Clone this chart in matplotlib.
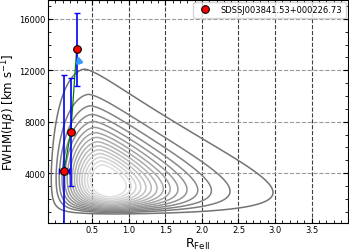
import numpy as np
import matplotlib
matplotlib.use("Agg")
import matplotlib.pyplot as plt
from matplotlib.ticker import MultipleLocator

# source values
src_label = "SDSSJ003841.53+000226.73"
rfe = [0.117, 0.21, 0.29]
fwhm = [4180, 7235, 13630]
fwhm_err = [7450, 4200, 2850]
rfe_err = [0.065, 0.0, 0.0]

# shape of the quasar main-sequence density (peak position / widths)
peak_rfe, peak_fwhm = 0.70, 3200
rfe_shift, fwhm_floor = 0.15, 700
a_rfe, a_fwhm, p_rfe, skew = 2.4, 1.47, 0.8, 0.05
levels = [0.05, 0.12, 0.175, 0.23, 0.285, 0.34, 0.395, 0.45, 0.505, 0.56,
          0.615, 0.67, 0.725, 0.78, 0.835]

fig = plt.figure(figsize=(3.49, 2.51), dpi=100)
ax = fig.add_axes([0.138, 0.109, 0.86, 0.889])

# contour background
xg = np.linspace(-0.1, 4.0, 500)
yg = np.linspace(150, 17500, 500)
X, Y = np.meshgrid(xg, yg)
u = X + rfe_shift
v = (Y - fwhm_floor) / 1000.0
vp = (peak_fwhm - fwhm_floor) / 1000.0
up = (peak_rfe + rfe_shift) * np.exp(-skew * (v - vp))
with np.errstate(divide="ignore", invalid="ignore"):
    tu = np.where(u > 0, u / up, np.nan)
    tv = np.where(v > 0, v / vp, np.nan)
    D = a_rfe * (tu - 1 - np.log(tu)) ** p_rfe + a_fwhm * (tv - 1 - np.log(tv))
Z = np.nan_to_num(np.exp(-D), nan=0.0)
greys = [str(g) for g in np.linspace(0.45, 0.88, len(levels))]
ax.contour(X, Y, Z, levels=levels, colors=greys, linewidths=1.1)

# source
ax.plot(rfe, fwhm, color="green", lw=0.9, zorder=3)
ax.errorbar(rfe, fwhm, yerr=fwhm_err, xerr=rfe_err, fmt="none", ecolor="blue",
            elinewidth=1.2, capsize=2.5, capthick=1.0, zorder=4)
ax.plot(rfe, fwhm, "o", color="red", mec="black", mew=0.8, ms=5.5, zorder=5,
        label=src_label)
ax.annotate("", xy=(rfe[2], 13350), xytext=(0.34, 12350),
            arrowprops=dict(arrowstyle="-|>", color="#3399ff", lw=2,
                            mutation_scale=8), zorder=6)

ax.set_xlim(-0.1, 4.0)
ax.set_ylim(150, 17500)
ax.xaxis.set_minor_locator(MultipleLocator(0.1))
ax.yaxis.set_major_locator(MultipleLocator(4000))
ax.yaxis.set_minor_locator(MultipleLocator(1000))
ax.set_xticks([0.5, 1.0, 1.5, 2.0, 2.5, 3.0, 3.5])
ax.tick_params(which="both", direction="in", top=True, right=True,
               labelsize=6, pad=2)
ax.tick_params(which="major", length=3.5)
ax.tick_params(which="minor", length=2)
ax.grid(axis="x", ls="--", color="0.25", lw=0.8)
ax.grid(axis="y", ls="--", color="0.6", lw=0.8)
ax.set_axisbelow(True)

ax.set_xlabel(r"R$_{\rm FeII}$", fontsize=9, labelpad=1)
ax.set_ylabel(r"FWHM(H$\beta$) [km s$^{-1}$]", fontsize=8.5, labelpad=0.3)
ax.legend(loc="upper right", fontsize=6, handletextpad=0.9, borderpad=0.4,
          borderaxespad=0.3, frameon=True, fancybox=True)

fig.savefig("out.png", dpi=100)
